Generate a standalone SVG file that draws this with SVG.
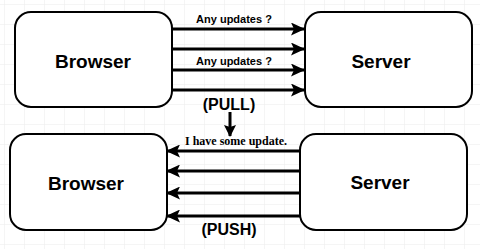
<svg xmlns="http://www.w3.org/2000/svg" width="480" height="249" viewBox="0 0 480 249">
<defs>
<pattern id="grid" width="20" height="20" patternUnits="userSpaceOnUse" x="4" y="4">
<path d="M20 0H0V20" fill="none" stroke="#ebebeb" stroke-width="1"/>
</pattern>
<marker id="ah" viewBox="0 0 14 13" refX="13" refY="6.5" markerWidth="14" markerHeight="13" markerUnits="userSpaceOnUse" orient="auto">
<path d="M0 0L14 6.5L0 13L3 6.5Z" fill="#000"/>
</marker>
<marker id="ahs" viewBox="0 0 12 12" refX="11" refY="6" markerWidth="12" markerHeight="12" markerUnits="userSpaceOnUse" orient="auto">
<path d="M0 0L12 6L0 12L2 6Z" fill="#000"/>
</marker>
</defs>
<style>
.box{fill:#fff;stroke:#000;stroke-width:2}
.lbl{font-family:"Liberation Sans",Arial,sans-serif;font-weight:bold;font-size:19px;text-anchor:middle;fill:#000}
.cap{font-family:"Liberation Sans",Arial,sans-serif;font-weight:bold;font-size:16px;text-anchor:middle;fill:#000}
.sm{font-family:"Liberation Sans",Arial,sans-serif;font-weight:bold;font-size:11px;text-anchor:middle;fill:#000}
.ser{font-family:"Liberation Serif","Times New Roman",serif;font-weight:bold;font-size:12px;text-anchor:middle;fill:#000}
.ar{stroke:#000;stroke-width:3;fill:none;marker-end:url(#ah)}
</style>
<rect width="480" height="249" fill="#fff"/>
<rect width="480" height="249" fill="url(#grid)"/>
<g id="browser-pull"><rect class="box" x="15" y="12" width="157" height="95" rx="16"/><text class="lbl" x="93" y="68">Browser</text></g>
<g id="server-pull"><rect class="box" x="305" y="12" width="167" height="95" rx="16"/><text class="lbl" x="381" y="68">Server</text></g>
<g id="browser-push"><rect class="box" x="10" y="134" width="157" height="96" rx="16"/><text class="lbl" x="86" y="190">Browser</text></g>
<g id="server-push"><rect class="box" x="300" y="134" width="167" height="96" rx="16"/><text class="lbl" x="380" y="189">Server</text></g>
<g id="connectors">
<line class="ar" x1="172" y1="29" x2="304" y2="29"/>
<line class="ar" x1="172" y1="49" x2="304" y2="49"/>
<line class="ar" x1="172" y1="70" x2="304" y2="70"/>
<line class="ar" x1="172" y1="90" x2="304" y2="90"/>
<line class="ar" x1="300" y1="151" x2="167" y2="151"/>
<line class="ar" x1="300" y1="171" x2="167" y2="171"/>
<line class="ar" x1="300" y1="193" x2="167" y2="193"/>
<line class="ar" x1="300" y1="216" x2="167" y2="216"/>
<line x1="230" y1="112" x2="230" y2="136" stroke="#000" stroke-width="3" marker-end="url(#ahs)"/>
</g>
<text class="sm" x="234" y="23">Any updates ?</text>
<text class="sm" x="234" y="65">Any updates ?</text>
<text class="cap" x="229" y="110">(PULL)</text>
<text class="ser" x="236" y="145">I have some update.</text>
<text class="cap" x="229" y="235">(PUSH)</text>
</svg>
